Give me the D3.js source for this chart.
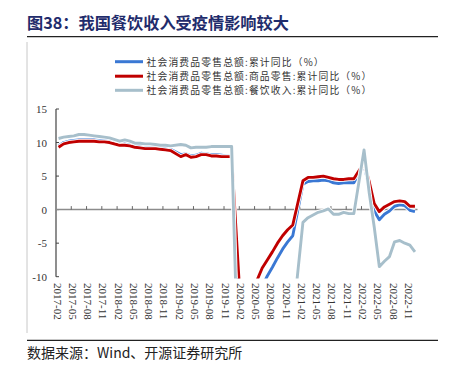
<!DOCTYPE html>
<html><head><meta charset="utf-8">
<script src="https://cdn.jsdelivr.net/npm/d3@7"></script>
<style>body{margin:0;background:#fff}svg{display:block}</style>
</head><body>
<svg id="c" width="450" height="378"></svg>
<script>
const months = [
"2017-02","2017-03","2017-04","2017-05","2017-06","2017-07","2017-08","2017-09","2017-10","2017-11","2017-12",
"2018-01","2018-02","2018-03","2018-04","2018-05","2018-06","2018-07","2018-08","2018-09","2018-10","2018-11","2018-12",
"2019-01","2019-02","2019-03","2019-04","2019-05","2019-06","2019-07","2019-08","2019-09","2019-10","2019-11","2019-12",
"2020-01","2020-02","2020-03","2020-04","2020-05","2020-06","2020-07","2020-08","2020-09","2020-10","2020-11","2020-12",
"2021-01","2021-02","2021-03","2021-04","2021-05","2021-06","2021-07","2021-08","2021-09","2021-10","2021-11","2021-12",
"2022-01","2022-02","2022-03","2022-04","2022-05","2022-06","2022-07","2022-08","2022-09","2022-10","2022-11","2022-12"];

const tickLabels = ["2017-02","2017-05","2017-08","2017-11","2018-02","2018-05","2018-08","2018-11",
"2019-02","2019-05","2019-08","2019-11","2020-02","2020-05","2020-08","2020-11",
"2021-02","2021-05","2021-08","2021-11","2022-02","2022-05","2022-08","2022-11"];

const yTicks = [-10, -5, 0, 5, 10, 15];

const seriesNames = ["社会消费品零售总额:累计同比（%）","社会消费品零售总额:商品零售:累计同比（%）","社会消费品零售总额:餐饮收入:累计同比（%）"];
const seriesColors = ["#3a78d4", "#c00000", "#a7bfcb"];

const totalRetail = [
9.5,10.0,10.2,10.3,10.4,10.4,10.4,10.4,10.3,10.3,10.2,
null,9.7,9.8,9.7,9.5,9.4,9.3,9.3,9.3,9.2,9.1,9.0,
null,8.2,8.3,8.0,8.1,8.4,8.3,8.2,8.2,8.1,8.0,8.0,
null,-20.5,-19.0,-16.2,-13.5,-11.4,-9.9,-8.6,-7.2,-5.9,-4.8,-3.9,
null,3.8,4.2,4.3,4.3,4.4,4.3,4.0,3.9,4.0,4.0,4.0,
null,6.7,3.3,-0.2,-1.5,-0.7,-0.2,0.5,0.7,0.6,-0.1,-0.3];

const goodsRetail = [
9.3,9.8,10.0,10.1,10.2,10.2,10.2,10.2,10.1,10.1,10.0,
null,9.6,9.6,9.5,9.3,9.2,9.1,9.1,9.1,9.0,8.9,8.8,
null,7.9,8.2,7.8,7.9,8.2,8.2,8.0,8.0,7.9,7.9,7.9,
null,-17.6,-15.8,-12.8,-10.5,-8.7,-7.5,-6.3,-5.0,-3.9,-3.0,-2.3,
null,4.3,4.8,4.8,4.9,5.0,4.8,4.6,4.5,4.5,4.6,4.6,
null,7.0,4.2,0.9,-0.3,0.4,0.8,1.2,1.3,1.2,0.5,0.5];

const cateringRevenue = [
10.6,10.8,10.9,11.0,11.2,11.2,11.1,11.0,10.9,10.8,10.7,
null,10.2,10.4,10.2,9.9,9.9,9.8,9.8,9.7,9.6,9.6,9.5,
null,9.7,9.6,9.2,9.3,9.3,9.3,9.4,9.4,9.4,9.4,9.4,
null,-43.1,-44.3,-41.2,-36.5,-32.8,-29.6,-26.6,-23.9,-21.2,-19.0,-16.6,
null,-1.9,-1.2,-0.8,-0.4,-0.2,0.1,-0.7,-0.7,-0.4,-0.6,-0.6,
null,8.9,2.6,-2.6,-8.5,-7.7,-7.0,-4.8,-4.6,-5.0,-5.3,-6.3];

const series = [totalRetail, goodsRetail, cateringRevenue];

const svg = d3.select("#c");
const serif = "'Liberation Serif','Times New Roman',serif";
const cjk = "'Noto Sans CJK SC','Noto Sans',sans-serif";

const x = d3.scaleBand().domain(months).range([56, 417.5]).paddingInner(0).paddingOuter(0);
const cx = m => x(m) + x.bandwidth() / 2;
const y = d3.scaleLinear().domain([-10, 15]).range([276.7, 109]);

// frame
svg.append("line").attr("x1",27).attr("x2",27).attr("y1",42).attr("y2",333).attr("stroke","#c8c8c8").attr("stroke-width",1);
svg.append("line").attr("x1",27).attr("x2",438).attr("y1",36.7).attr("y2",36.7).attr("stroke","#222").attr("stroke-width",1.3);
svg.append("line").attr("x1",27).attr("x2",438).attr("y1",340.3).attr("y2",340.3).attr("stroke","#222").attr("stroke-width",1.3);

// title
svg.append("text").attr("x",27).attr("y",28.5).attr("font-family",cjk).attr("font-weight","bold")
  .attr("font-size",16.2).attr("fill","#1f2c6c").text("图38：我国餐饮收入受疫情影响较大");

// source
svg.append("text").attr("x",27).attr("y",357.5).attr("font-family",cjk)
  .attr("font-size",14).attr("fill","#222").text("数据来源：Wind、开源证券研究所");

// legend
const legY = [61.7, 76.2, 90.3];
seriesNames.forEach((n, i) => {
  svg.append("line").attr("x1",115).attr("x2",143).attr("y1",legY[i]).attr("y2",legY[i])
    .attr("stroke",seriesColors[i]).attr("stroke-width",3);
  svg.append("text").attr("x",146.5).attr("y",legY[i]).attr("dominant-baseline","central")
    .attr("font-family",cjk).attr("font-size",9.8).attr("letter-spacing",1.15).attr("fill","#333").text(n);
});

// y axis
svg.append("line").attr("x1",56).attr("x2",56).attr("y1",y(15)).attr("y2",y(-10)).attr("stroke","#444").attr("stroke-width",1.2);
yTicks.forEach(t => {
  svg.append("line").attr("x1",56).attr("x2",59).attr("y1",y(t)).attr("y2",y(t)).attr("stroke","#444").attr("stroke-width",1);
  svg.append("text").attr("x",47).attr("y",y(t)).attr("text-anchor","end").attr("dominant-baseline","central")
    .attr("font-family",serif).attr("font-size",11).attr("fill","#333").text(t);
});

// x axis (zero line) with ticks between every 3 months
svg.append("line").attr("x1",56).attr("x2",417.5).attr("y1",y(0)).attr("y2",y(0)).attr("stroke","#8c8c8c").attr("stroke-width",1.5);
tickLabels.slice(1).forEach(m => {
  const bx = x(m);
  svg.append("line").attr("x1",bx).attr("x2",bx).attr("y1",y(0)).attr("y2",y(0)-3.5).attr("stroke","#666").attr("stroke-width",1);
});
tickLabels.forEach(m => {
  svg.append("text").attr("transform",`translate(${cx(m)-1},283) rotate(90)`)
    .attr("dominant-baseline","central").attr("font-family",serif).attr("font-size",11).attr("fill","#333").text(m);
});

// lines
svg.append("clipPath").attr("id","clip").append("rect").attr("x",50).attr("y",100).attr("width",375).attr("height",178.5);
const g = svg.append("g").attr("clip-path","url(#clip)");
const line = d3.line().x(d => cx(d.m)).y(d => y(d.v));
series.forEach((s, i) => {
  const pts = months.map((m, k) => ({m, v: s[k]})).filter(d => d.v !== null);
  g.append("path").attr("d", line(pts)).attr("fill","none").attr("stroke","#fff").attr("stroke-width",4.6).attr("stroke-linejoin","round");
  g.append("path").attr("d", line(pts)).attr("fill","none").attr("stroke",seriesColors[i]).attr("stroke-width",2.9).attr("stroke-linejoin","round");
});
</script>
</body></html>
